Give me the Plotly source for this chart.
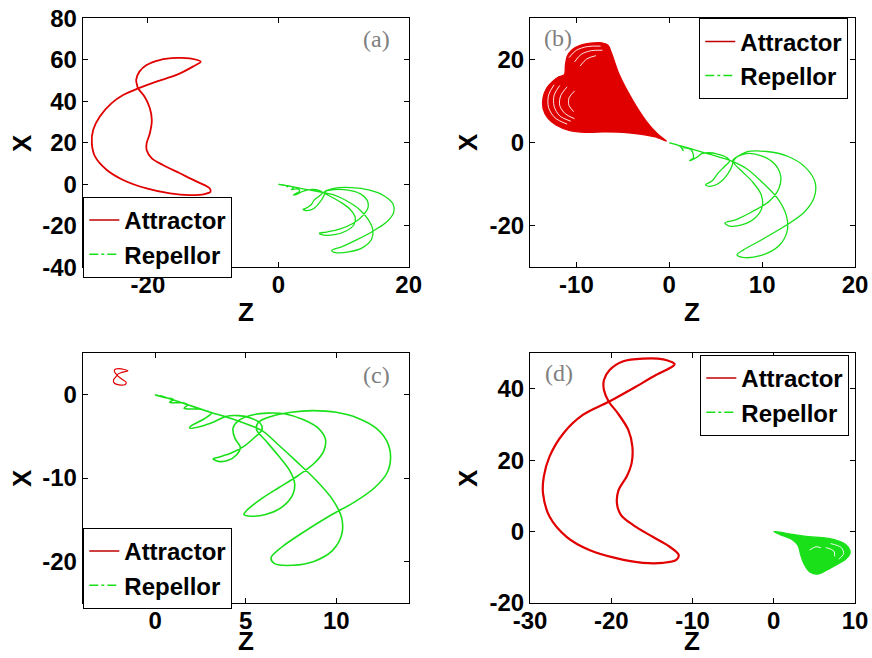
import plotly.graph_objects as go

RED = "#e00000"
GREEN = "#19e019"

# ---------------- Panel (a) ----------------
a_att_z = [-11.9, -13.6, -15.6, -18.2, -20.2, -21.3, -21.8, -21.6, -21.5, -20.5, -19.7, -19.4, -19.7, -20.2,
           -20.2, -19.4, -17.7, -15.1, -12.5, -10.5, -10.4, -11.3, -13.6, -16.6, -20.2, -23.8, -26.3, -28.1,
           -28.6, -28.4, -27.4, -25.6, -23.8, -21.5, -18.7, -15.6, -13.1, -11.9]
a_att_x = [59.1, 60.7, 60.9, 59.9, 57.5, 54.3, 50.3, 47.0, 46.2, 42.2, 36.6, 31.0, 24.6, 19.7,
           16.5, 12.5, 9.3, 5.3, 1.3, -2.0, -3.6, -4.7, -5.2, -4.4, -2.0, 2.1, 6.9, 13.3,
           19.7, 26.2, 32.6, 39.0, 43.0, 46.2, 49.5, 52.7, 56.7, 59.1]
a_rep_z = [0, 0.6, 1.1, 1.4, 1.3, 1.8, 2.3, 2.0, 2.5, 3.0, 3.3, 2.6, 2.3, 2.9, 3.6, 4.4, 5.4, 6.3, 6.8,
           6.3, 5.5, 5.0, 4.2, 3.8, 4.3, 5.4, 6.4, 7.0, 7.2,
           8.5, 10.7, 12.6, 13.6, 13.8, 13.0, 11.5, 9.4, 7.4, 6.3, 7.0, 8.6, 10.4, 11.6, 11.8, 11.0, 9.5, 7.8, 7.0,
           8.5, 11.2, 14.0, 16.2, 17.6, 17.7, 16.6, 14.5, 12.0, 9.8, 8.2, 8.6, 10.8, 13.0, 14.3, 14.5, 13.8,
           12.4, 10.4, 8.4, 6.8, 5.5, 4.0, 2.5, 1.0, 0.1]
a_rep_x = [0, -0.2, -0.5, -1.2, -0.8, -0.9, -1.7, -2.6, -2.3, -2.2, -3.3, -4.6, -5.2, -4.8, -3.6, -2.8, -2.5, -3.0, -4.0,
           -5.6, -7.6, -10.0, -11.6, -12.1, -12.7, -11.8, -8.5, -5.5, -3.6,
           -2.6, -2.8, -4.6, -7.5, -10.8, -15.0, -18.8, -21.6, -23.0, -23.6, -24.5, -24.3, -22.5, -19.5, -16.0, -12.0, -8.5, -5.5, -4.0,
           -2.0, -1.6, -2.8, -5.5, -9.5, -13.5, -18.2, -22.6, -26.8, -30.0, -31.8, -32.8, -32.6, -30.4, -26.5, -22.0, -17.0,
           -12.0, -7.8, -5.0, -3.9, -3.2, -2.3, -1.4, -0.55, 0.0]

# ---------------- Panel (b) ----------------
b_att_z = [-0.3, -1.5, -3.2, -5.0, -7.0, -9.0, -10.8, -12.2, -13.1, -13.6, -13.6, -13.2, -12.5, -11.9, -11.3,
           -11.2, -11.0, -10.5, -9.6, -8.5, -7.3, -6.6, -6.2, -5.4, -4.0, -2.4, -1.2, -0.3]
b_att_x = [0.4, 1.4, 2.1, 2.5, 2.6, 2.5, 3.0, 4.3, 6.0, 8.3, 10.8, 13.2, 14.9, 15.9, 16.4,
           18.5, 20.8, 22.4, 23.5, 24.0, 24.1, 23.5, 21.5, 16.5, 10.5, 5.0, 2.0, 0.4]
# unfilled gaps (white streaks) inside the dense attractor of panel (b)
b_gap_z = [[-12.4, -13.0, -13.0, -12.3, -11.0], [-11.8, -12.4, -12.4, -11.8, -10.6],
           [-11.0, -11.7, -11.8, -11.2, -10.2], [-10.2, -10.8, -10.8, -10.3],
           [-10.8, -10.0, -8.8, -7.4], [-10.2, -9.5, -8.4, -7.2], [-9.6, -8.9, -7.9]]
b_gap_x = [[14.0, 11.5, 8.5, 6.0, 4.5], [13.8, 11.5, 8.8, 6.5, 5.2],
           [13.5, 11.3, 9.0, 7.0, 5.8], [12.5, 10.8, 9.0, 7.5],
           [20.5, 22.3, 23.2, 23.3], [19.5, 21.3, 22.2, 22.3], [18.5, 20.2, 21.0]]
b_rep_z = [0, 0.7, 1.2, 1.5, 1.4, 1.9, 2.4, 2.6, 2.2, 2.9, 3.5, 4.3, 5.2, 6.0, 6.5,
           6.0, 5.3, 4.6, 3.9, 4.3, 5.3, 6.3, 6.8, 6.9,
           8.3, 10.0, 11.3, 12.0, 11.8, 10.8, 9.0, 7.2, 6.0, 6.4, 7.8, 9.2, 10.0, 9.9, 9.0, 7.8, 6.9,
           8.2, 10.5, 12.8, 14.6, 15.7, 15.6, 14.5, 12.5, 10.0, 8.0, 7.3, 7.9, 9.8, 11.8, 12.7, 12.6,
           11.7, 10.0, 8.3, 6.6, 5.3, 3.8, 2.3, 1.0, 0.1]
b_rep_x = [0, -0.4, -0.9, -1.9, -1.3, -1.3, -1.8, -3.6, -4.3, -3.6, -2.6, -2.4, -2.7, -3.3, -4.3,
           -5.6, -7.2, -9.2, -10.1, -10.5, -9.8, -7.5, -5.3, -4.0,
           -2.6, -3.2, -5.0, -8.0, -11.0, -14.0, -16.5, -18.5, -19.3, -20.0, -19.8, -18.2, -15.5, -12.5, -9.5, -6.8, -4.5,
           -2.3, -2.1, -3.3, -5.8, -9.5, -13.2, -16.8, -20.0, -23.3, -25.8, -27.0, -27.6, -27.2, -24.8, -21.2, -17.5,
           -13.5, -9.5, -6.2, -4.3, -3.4, -2.4, -1.4, -0.6, 0.0]

# ---------------- Panel (c) ----------------
c_att_z = [-1.5, -2.0, -2.25, -2.2, -2.1, -2.3, -2.25, -2.0, -1.65, -1.6, -1.85, -2.1, -1.85, -1.5]
c_att_x = [2.9, 3.15, 3.0, 2.6, 2.4, 1.8, 1.4, 1.2, 1.25, 1.5, 1.9, 2.4, 2.7, 2.9]
c_rep_z = [0.0, 0.6, 1.0, 0.8, 1.1, 1.5, 1.8, 1.6, 1.9, 2.4, 2.8, 3.1, 2.7, 2.0, 1.9, 2.5, 3.3, 3.9,
           4.6, 5.3, 5.8, 5.9, 5.5, 4.9, 4.2, 3.5, 3.2, 3.5, 4.0, 4.5, 4.7, 4.4, 4.3, 4.6,
           5.2, 6.2, 7.2, 8.2, 9.0, 9.4, 9.3, 8.8, 7.9, 6.8, 5.8, 5.1, 4.9, 5.3, 6.1, 7.0, 7.6, 7.7, 7.4, 6.8,
           6.1, 5.6, 5.7,
           6.4, 7.5, 8.7, 10.0, 11.2, 12.2, 12.8, 13.0, 12.8, 12.1, 11.0, 9.6, 8.2, 7.0, 6.4, 6.6, 7.6, 8.8,
           9.8, 10.3, 10.3, 9.8, 8.9, 7.8, 6.8, 5.9, 4.4, 3.0, 1.6, 0.3]
c_rep_x = [0.0, -0.35, -0.55, -0.9, -0.95, -0.95, -1.2, -1.6, -1.7, -1.7, -1.9, -2.2, -2.9, -3.7, -4.0, -3.8, -3.2, -2.6,
           -2.5, -2.8, -3.4, -4.2, -5.1, -6.2, -7.0, -7.5, -7.7, -8.0, -7.9, -7.2, -6.3, -5.2, -4.0, -3.1,
           -2.5, -2.2, -2.3, -3.0, -4.0, -5.3, -6.8, -8.2, -9.7, -11.2, -12.6, -13.8, -14.4, -14.6, -14.4, -13.5, -12.0, -10.6, -9.0, -7.3,
           -5.5, -4.2, -3.3,
           -2.6, -2.1, -1.9, -2.1, -2.8, -4.0, -5.6, -7.5, -9.4, -11.2, -12.9, -14.6, -16.5, -18.3, -19.6, -20.3, -20.5, -20.0,
           -18.7, -16.8, -14.8, -12.6, -10.3, -8.0, -6.0, -4.3, -3.0, -2.05, -1.05, -0.1]

# ---------------- Panel (d) ----------------
d_att_z = [-12.2, -13.6, -16.1, -18.6, -20.2, -20.9, -20.9, -20.3, -19.2, -17.9, -17.4, -17.5, -18.1, -19.1,
           -19.3, -18.8, -17.3, -14.9, -12.8, -11.7, -12.0, -13.6, -16.1, -19.4, -22.7, -25.5, -27.6, -28.4,
           -28.3, -27.6, -25.9, -23.5, -20.3, -17.3, -14.5, -12.4, -12.2]
d_att_x = [47.0, 48.3, 48.5, 47.7, 45.3, 42.5, 39.7, 36.4, 33.2, 28.5, 23.8, 19.1, 15.4, 11.6,
           7.9, 4.6, 1.8, -1.5, -4.3, -6.6, -8.0, -8.8, -8.8, -7.5, -5.2, -1.5, 4.2, 10.7,
           15.4, 21.0, 27.5, 32.7, 36.4, 40.2, 43.9, 46.4, 47.0]
d_rep_z = [0.0, 1.5, 4.0, 6.5, 8.1, 9.1, 9.4, 8.8, 7.7, 6.5, 5.4, 4.4, 3.7, 3.3, 3.0, 2.2, 0.8, 0.0]
d_rep_x = [0.0, -0.5, -1.4, -1.9, -2.8, -4.2, -6.0, -7.9, -9.4, -10.9, -12.0, -11.3, -9.0, -6.5, -4.0, -2.2, -0.9, 0.0]
d_gap_z = [[7.0, 8.3, 8.6, 8.0], [6.4, 7.4, 7.5], [4.4, 5.2, 5.8]]
d_gap_x = [[-3.4, -4.5, -6.2, -7.8], [-4.5, -5.5, -7.0], [-5.2, -4.3, -4.6]]

# axis settings
a_xrange, a_yrange = [-30, 20], [-40, 80]
b_xrange, b_yrange = [-15, 20], [-30, 30]
c_xrange, c_yrange = [-4, 14], [-25, 5]
d_xrange, d_yrange = [-30, 10], [-20, 50]
a_xticks, a_yticks = [-20, 0, 20], [-40, -20, 0, 20, 40, 60, 80]
b_xticks, b_yticks = [-10, 0, 10, 20], [-20, 0, 20]
c_xticks, c_yticks = [0, 5, 10], [-20, -10, 0]
d_xticks, d_yticks = [-30, -20, -10, 0, 10], [-20, 0, 20, 40]

W, H = 872, 658
FONT = "Liberation Sans"

fig = go.Figure()

def line_trace(z, x, color, width, ax, fill=False):
    kw = dict(x=z, y=x, mode="lines",
              line=dict(color=color, width=width, shape="spline", smoothing=0.9),
              showlegend=False, hoverinfo="skip", xaxis="x" + ax, yaxis="y" + ax)
    if fill:
        kw.update(fill="toself", fillcolor=color)
    fig.add_trace(go.Scatter(**kw))

def legend_traces(ax, leg):
    fig.add_trace(go.Scatter(x=[None], y=[None], mode="lines", name="Attractor",
                             line=dict(color="#c00000", width=1.5), legend=leg,
                             xaxis="x" + ax, yaxis="y" + ax))
    fig.add_trace(go.Scatter(x=[None], y=[None], mode="lines", name="Repellor",
                             line=dict(color=GREEN, width=1.5, dash="dashdot"), legend=leg,
                             xaxis="x" + ax, yaxis="y" + ax))

line_trace(a_att_z, a_att_x, RED, 1.8, "")
line_trace(a_rep_z, a_rep_x, GREEN, 1.3, "")
legend_traces("", "legend")

line_trace(b_att_z, b_att_x, RED, 1.2, "2", fill=True)
for gz, gx in zip(b_gap_z, b_gap_x):
    line_trace(gz, gx, "white", 0.9, "2")
line_trace(b_rep_z, b_rep_x, GREEN, 1.3, "2")
legend_traces("2", "legend2")

line_trace(c_att_z, c_att_x, RED, 1.2, "3")
line_trace(c_rep_z, c_rep_x, GREEN, 1.6, "3")
legend_traces("3", "legend3")

line_trace(d_att_z, d_att_x, RED, 2.2, "4")
line_trace(d_rep_z, d_rep_x, GREEN, 1.2, "4", fill=True)
for gz, gx in zip(d_gap_z, d_gap_x):
    line_trace(gz, gx, "white", 0.9, "4")
legend_traces("4", "legend4")

def px(v):
    return v / W

def py(v):
    return 1 - v / H

def axis(domain, rng, ticks, anchor, standoff):
    return dict(domain=domain, range=rng, tickmode="array", tickvals=ticks,
                ticktext=[str(t) for t in ticks], ticks="inside", ticklen=5,
                tickcolor="black", showline=True, linecolor="black", linewidth=1,
                mirror="ticks", showgrid=False, zeroline=False, anchor=anchor,
                ticklabelstandoff=standoff, automargin=False,
                tickfont=dict(family=FONT, size=24, color="black", weight="bold"))

xdomL = [px(82.7), px(408.7)]
xdomR = [px(530), px(855)]
ydomT = [py(267.3), py(18.3)]
ydomB = [py(602.7), py(353.3)]

def legend(x, y):
    return dict(x=x, y=y, xanchor="left", yanchor="top", bgcolor="white",
                bordercolor="black", borderwidth=1, tracegroupgap=0,
                font=dict(family=FONT, size=24, color="black", weight="bold"))

annotations = []
for (zx, zy) in [(245.7, 312), (692, 312)]:
    annotations.append(dict(text="Z", x=px(zx), y=py(zy), xref="paper", yref="paper",
                            showarrow=False, xanchor="center", yanchor="middle",
                            font=dict(family=FONT, size=26, color="black", weight="bold")))
for zx in [245.7, 692]:
    annotations.append(dict(text="Z", x=px(zx), y=0, xref="paper", yref="paper",
                            showarrow=False, xanchor="center", yanchor="bottom",
                            font=dict(family=FONT, size=26, color="black", weight="bold")))
for (xx, xy) in [(22, 143), (468, 142), (22, 478), (468, 478)]:
    annotations.append(dict(text="X", x=px(xx), y=py(xy), xref="paper", yref="paper",
                            showarrow=False, xanchor="center", yanchor="middle", textangle=-90,
                            font=dict(family=FONT, size=26, color="black", weight="bold")))
for (lab, lx, ly) in [("(a)", 376.7, 39.3), ("(b)", 557.7, 38.3), ("(c)", 376.7, 375), ("(d)", 558.7, 373.3)]:
    annotations.append(dict(text=lab, x=px(lx), y=py(ly), xref="paper", yref="paper",
                            showarrow=False, xanchor="center", yanchor="middle",
                            font=dict(family="Liberation Serif", size=24, color="#808080")))

fig.update_layout(
    width=W, height=H, margin=dict(l=0, r=0, t=0, b=0, autoexpand=False),
    paper_bgcolor="white", plot_bgcolor="white",
    xaxis=axis(xdomL, a_xrange, a_xticks, "y", -4),
    yaxis=axis(ydomT, a_yrange, a_yticks, "x", 0),
    xaxis2=axis(xdomR, b_xrange, b_xticks, "y2", -4),
    yaxis2=axis(ydomT, b_yrange, b_yticks, "x2", 0),
    xaxis3=axis(xdomL, c_xrange, c_xticks, "y3", -4),
    yaxis3=axis(ydomB, c_yrange, c_yticks, "x3", 0),
    xaxis4=axis(xdomR, d_xrange, d_xticks, "y4", -4),
    yaxis4=axis(ydomB, d_yrange, d_yticks, "x4", 0),
    legend=legend(px(83.3), py(197)),
    legend2=legend(px(699.3), py(18.3)),
    legend3=legend(px(83.3), py(528)),
    legend4=legend(px(700.3), py(355)),
    annotations=annotations,
)

fig.write_html("out.html")
